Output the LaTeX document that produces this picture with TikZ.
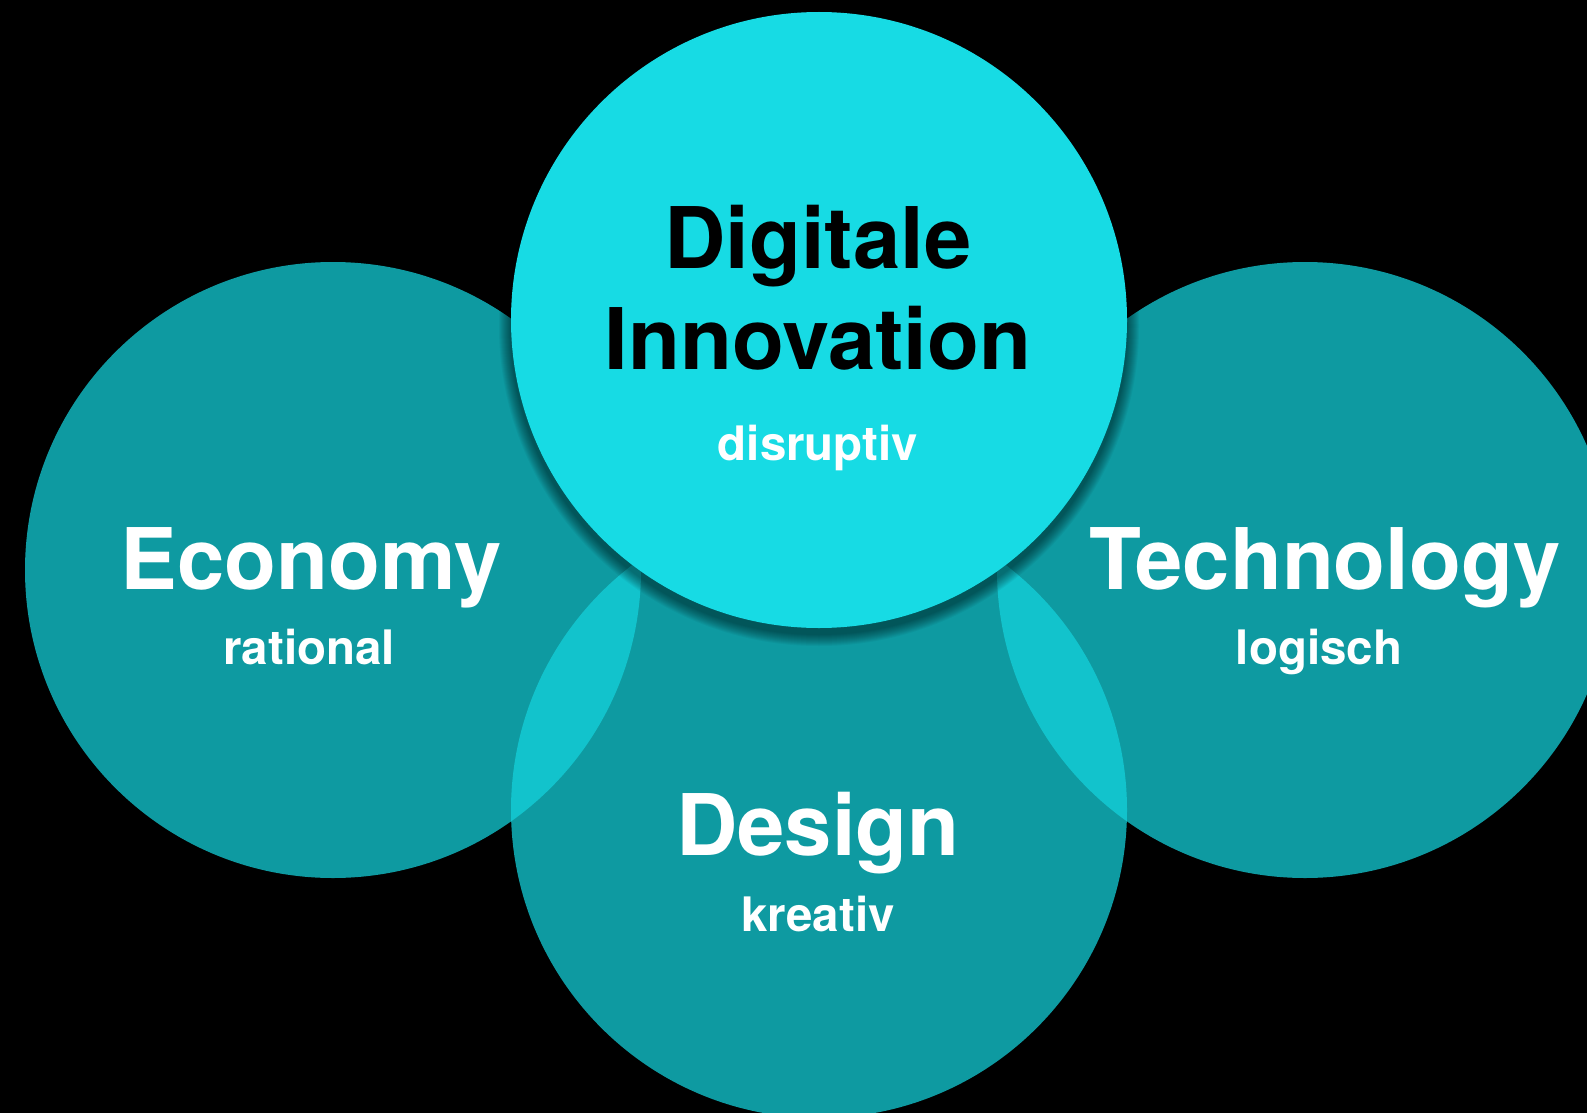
\documentclass[tikz,border=0pt]{standalone}
\usepackage{fontspec}
\setmainfont{TeX Gyre Heros}
\begin{document}
\begin{tikzpicture}[x=1pt,y=-1pt,
  soft/.style={fill={rgb,255:red,20;green,211;blue,220},fill opacity=0.735,draw=none},
  topc/.style={fill={rgb,255:red,23;green,219;blue,228},draw=none},
  big/.style={font=\fontsize{85}{100}\selectfont\bfseries,inner sep=0pt,anchor=base},
  small/.style={font=\fontsize{47.5}{56}\selectfont\bfseries,inner sep=0pt,anchor=base,text=white}]
\fill[black] (0,0) rectangle (1587,1113);
\useasboundingbox (0,0) rectangle (1587,1113);
% translucent circles
\fill[soft] (333,570) circle[radius=308];
\fill[soft] (1305,570) circle[radius=308];
\fill[soft] (819,810) circle[radius=308];
% soft shadow of top circle
\foreach \i in {0,...,11}{
  \fill[black,opacity=0.045] (819,326) circle[radius=308+12-\i];
}
\fill[topc] (819,320) circle[radius=308];
% labels
\node[big,text=black] (dig) at (818,268) {Digitale};
\node[big,text=black] (inn) at (818,369) {Innovation};
\node[small] (dis) at (818,460) {disruptiv};
\node[big,text=white] (eco) at (311,589) {Economy};
\node[small] (rat) at (309,664) {rational};
\node[big,text=white] (tec) at (1325,589) {Technology};
\node[small] (log) at (1319,664) {logisch};
\node[big,text=white] (des) at (818,855) {Design};
\node[small] (kre) at (818,931) {kreativ};
\end{tikzpicture}
\end{document}
